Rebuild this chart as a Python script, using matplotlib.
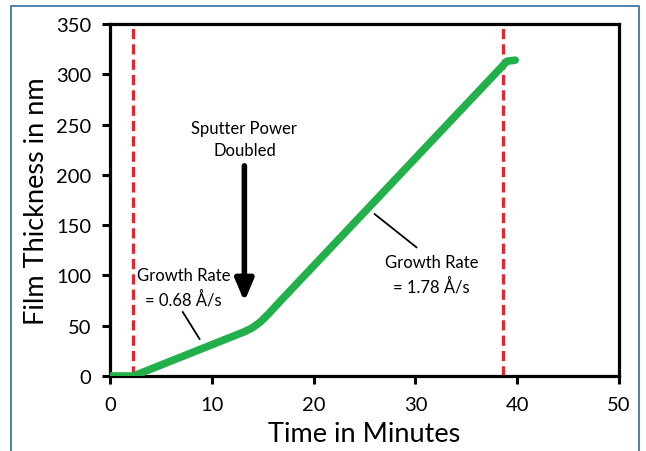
#!/usr/bin/env python3
"""Film thickness vs deposition time, with the two growth-rate regimes."""

import matplotlib
matplotlib.use('Agg')
import matplotlib.pyplot as plt
from matplotlib.patches import Rectangle

# thickness trace (minutes, nm)
time_min = [0.0, 2.3, 13.2, 14.0, 14.8, 15.6, 16.5, 39.0, 39.8]
thickness_nm = [0.0, 0.0, 44.0, 48.0, 54.0, 62.0, 72.0, 313.0, 314.0]

# start / stop markers
marker_times = [2.25, 38.65]

x_ticks = [0, 10, 20, 30, 40, 50]
y_ticks = [0, 50, 100, 150, 200, 250, 300, 350]

GREEN = '#22b04b'
RED = '#e3262d'

plt.rcParams['font.family'] = ['Lato', 'DejaVu Sans']

fig = plt.figure(figsize=(6.46, 4.52), dpi=100)
ax = fig.add_axes([110 / 646, 1 - 377 / 452, 509 / 646, 352 / 452])

# thin blue frame around the figure panel
fig.add_artist(Rectangle((11 / 646, -0.1), 628 / 646, 1.1 - 7 / 452,
                         transform=fig.transFigure, fill=False,
                         edgecolor='#2f6d9f', linewidth=1.2))

for xm in marker_times:
    ax.axvline(xm, color=RED, linewidth=2.3, linestyle=(0, (3.2, 1.6)), zorder=2)

ax.plot(time_min, thickness_nm, color=GREEN, linewidth=5.5,
        solid_capstyle='round', solid_joinstyle='round', zorder=3)

# power change arrow
ax.annotate('', xy=(13.2, 74), xytext=(13.2, 209),
            arrowprops=dict(arrowstyle='-|>,head_width=0.55,head_length=1.3',
                            color='black', linewidth=4, shrinkA=0, shrinkB=0))
ax.text(13.2, 236, 'Sputter Power\nDoubled', ha='center', va='center',
        fontsize=12, linespacing=1.45)

# growth rate labels
ax.text(7.2, 88, 'Growth Rate\n= 0.68 Å/s', ha='center', va='center',
        fontsize=12, linespacing=1.45)
ax.plot([7.15, 8.8], [63.6, 36.8], color='black', linewidth=1.3)

ax.text(31.6, 101, 'Growth Rate\n= 1.78 Å/s', ha='center', va='center',
        fontsize=12, linespacing=1.45)
ax.plot([26.0, 30.1], [161, 128], color='black', linewidth=1.3)

ax.set_xlim(0, 50)
ax.set_ylim(0, 350)
ax.set_xticks(x_ticks)
ax.set_yticks(y_ticks)
ax.tick_params(axis='both', direction='out', length=5.5, width=2.2,
               labelsize=14.5)
ax.tick_params(axis='x', pad=9)
ax.tick_params(axis='y', pad=8)
for sp in ax.spines.values():
    sp.set_linewidth(2.3)

ax.set_xlabel('Time in Minutes', fontsize=19.5, labelpad=6)
ax.set_ylabel('Film Thickness in nm', fontsize=19.5, labelpad=5)

fig.savefig('out.png', dpi=100)
